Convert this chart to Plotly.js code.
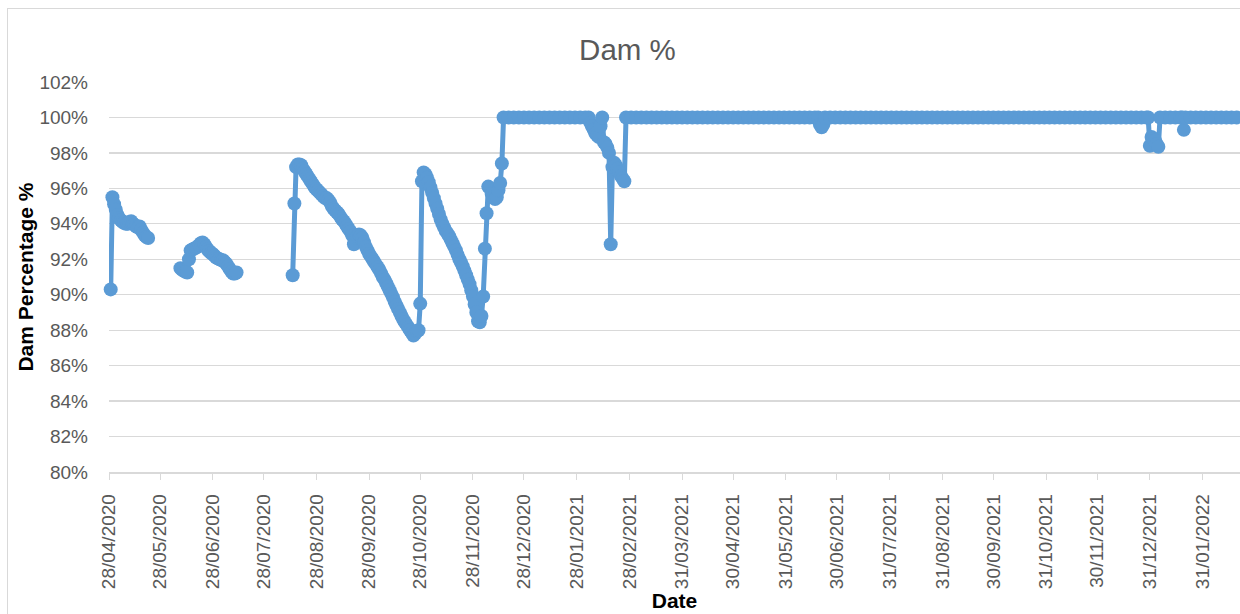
<!DOCTYPE html>
<html>
<head>
<meta charset="utf-8">
<script src="https://cdn.plot.ly/plotly-3.0.1.min.js"></script>
<style>
  html, body { margin: 0; padding: 0; background: #ffffff; }
  #chart { width: 1240px; height: 614px; }
  #frame { position: absolute; left: 7px; top: 8px; width: 1260px; height: 640px;
           border: 1px solid #d9d9d9; pointer-events: none; }
</style>
</head>
<body>
<div id="chart"></div>
<div id="frame"></div>
<script>
// ---- data (dam level, % full) ----
const dates = [
  // segment 1
  '2020-04-29','2020-04-30','2020-05-01','2020-05-02','2020-05-03','2020-05-04','2020-05-05','2020-05-06',
  '2020-05-07','2020-05-08','2020-05-09','2020-05-10','2020-05-11','2020-05-12','2020-05-13','2020-05-14',
  '2020-05-15','2020-05-16','2020-05-17','2020-05-18','2020-05-19','2020-05-20','2020-05-21',
  '2020-05-30',
  // segment 2
  '2020-06-09','2020-06-10','2020-06-11','2020-06-12','2020-06-13','2020-06-14','2020-06-15','2020-06-16',
  '2020-06-17','2020-06-18','2020-06-19','2020-06-20','2020-06-21','2020-06-22','2020-06-23','2020-06-24',
  '2020-06-25','2020-06-26','2020-06-27','2020-06-28','2020-06-29','2020-06-30','2020-07-01','2020-07-02',
  '2020-07-03','2020-07-04','2020-07-05','2020-07-06','2020-07-07','2020-07-08','2020-07-09','2020-07-10',
  '2020-07-11','2020-07-12',
  '2020-07-25',
  // segment 3
  '2020-08-14','2020-08-15','2020-08-16','2020-08-17','2020-08-18','2020-08-19','2020-08-20','2020-08-21',
  '2020-08-22','2020-08-23','2020-08-24','2020-08-25','2020-08-26','2020-08-27','2020-08-28','2020-08-29',
  '2020-08-30','2020-08-31','2020-09-01','2020-09-02','2020-09-03','2020-09-04','2020-09-05','2020-09-06',
  '2020-09-07','2020-09-08','2020-09-09','2020-09-10','2020-09-11','2020-09-12','2020-09-13','2020-09-14',
  '2020-09-15','2020-09-16','2020-09-17','2020-09-18','2020-09-19','2020-09-20','2020-09-21','2020-09-22',
  '2020-09-23','2020-09-24','2020-09-25','2020-09-26','2020-09-27','2020-09-28','2020-09-29','2020-09-30',
  '2020-10-01','2020-10-02','2020-10-03','2020-10-04','2020-10-05','2020-10-06','2020-10-07','2020-10-08',
  '2020-10-09','2020-10-10','2020-10-11','2020-10-12','2020-10-13','2020-10-14','2020-10-15','2020-10-16',
  '2020-10-17','2020-10-18','2020-10-19','2020-10-20','2020-10-21','2020-10-22','2020-10-23','2020-10-24',
  '2020-10-25','2020-10-26','2020-10-27','2020-10-28','2020-10-29','2020-10-30','2020-10-31','2020-11-01',
  '2020-11-02','2020-11-03','2020-11-04','2020-11-05','2020-11-06','2020-11-07','2020-11-08','2020-11-09',
  '2020-11-10','2020-11-11','2020-11-12','2020-11-13','2020-11-14','2020-11-15','2020-11-16','2020-11-17',
  '2020-11-18','2020-11-19','2020-11-20','2020-11-21','2020-11-22','2020-11-23','2020-11-24','2020-11-25',
  '2020-11-26','2020-11-27','2020-11-28','2020-11-29','2020-11-30','2020-12-01','2020-12-02','2020-12-03',
  '2020-12-04','2020-12-05','2020-12-06','2020-12-07','2020-12-08','2020-12-09','2020-12-10','2020-12-11',
  '2020-12-12','2020-12-13','2020-12-14','2020-12-15','2020-12-16',
  '2020-12-19','2020-12-22','2020-12-25','2020-12-28','2020-12-31','2021-01-03','2021-01-06','2021-01-09',
  '2021-01-12','2021-01-15','2021-01-18','2021-01-21','2021-01-24','2021-01-27','2021-01-30','2021-02-02',
  '2021-02-04',
  '2021-02-05','2021-02-06','2021-02-07','2021-02-08','2021-02-09','2021-02-10','2021-02-11','2021-02-12',
  '2021-02-13','2021-02-14','2021-02-15','2021-02-16','2021-02-17','2021-02-18','2021-02-19','2021-02-20',
  '2021-02-21','2021-02-22','2021-02-23','2021-02-24','2021-02-25','2021-02-26',
  '2021-03-01','2021-03-04','2021-03-07','2021-03-10','2021-03-13','2021-03-16','2021-03-19','2021-03-22',
  '2021-03-25','2021-03-28','2021-03-31','2021-04-03','2021-04-06','2021-04-09','2021-04-12','2021-04-15',
  '2021-04-18','2021-04-21','2021-04-24','2021-04-27','2021-04-30','2021-05-03','2021-05-06','2021-05-09',
  '2021-05-12','2021-05-15','2021-05-18','2021-05-21','2021-05-24','2021-05-27','2021-05-30','2021-06-02',
  '2021-06-05','2021-06-08','2021-06-11','2021-06-14','2021-06-17','2021-06-19',
  '2021-06-20','2021-06-21','2021-06-22','2021-06-23',
  '2021-06-26','2021-06-29','2021-07-02','2021-07-05','2021-07-08','2021-07-11','2021-07-14','2021-07-17',
  '2021-07-20','2021-07-23','2021-07-26','2021-07-29','2021-08-01','2021-08-04','2021-08-07','2021-08-10',
  '2021-08-13','2021-08-16','2021-08-19','2021-08-22','2021-08-25','2021-08-28','2021-08-31','2021-09-03',
  '2021-09-06','2021-09-09','2021-09-12','2021-09-15','2021-09-18','2021-09-21','2021-09-24','2021-09-27',
  '2021-09-30','2021-10-03','2021-10-06','2021-10-09','2021-10-12','2021-10-15','2021-10-18','2021-10-21',
  '2021-10-24','2021-10-27','2021-10-30','2021-11-02','2021-11-05','2021-11-08','2021-11-11','2021-11-14',
  '2021-11-17','2021-11-20','2021-11-23','2021-11-26','2021-11-29','2021-12-02','2021-12-05','2021-12-08',
  '2021-12-11','2021-12-14','2021-12-17','2021-12-20','2021-12-23','2021-12-26','2021-12-29','2021-12-30',
  '2021-12-31','2022-01-01','2022-01-02','2022-01-03','2022-01-04','2022-01-05','2022-01-06',
  '2022-01-09','2022-01-12','2022-01-15','2022-01-18','2022-01-19','2022-01-20','2022-01-21',
  '2022-01-24','2022-01-27','2022-01-30','2022-02-02','2022-02-05','2022-02-08','2022-02-11','2022-02-14',
  '2022-02-17','2022-02-20','2022-02-23','2022-02-26'
];
const levels = [
  // segment 1
  90.3,95.5,95.1,94.8,94.5,94.3,94.2,94.1,
  94.05,94.0,94.0,94.1,94.15,94.0,93.95,93.85,
  93.8,93.85,93.65,93.5,93.35,93.25,93.2,
  null,
  // segment 2
  91.5,91.4,91.35,91.3,91.25,92.0,92.5,92.55,
  92.6,92.65,92.7,92.8,92.9,92.95,92.85,92.7,
  92.55,92.45,92.35,92.3,92.2,92.1,92.05,92.0,
  91.95,91.95,91.85,91.75,91.6,91.45,91.3,91.2,
  91.2,91.25,
  null,
  // segment 3
  91.1,95.15,97.2,97.35,97.35,97.3,97.1,96.95,
  96.8,96.65,96.5,96.35,96.2,96.05,95.95,95.85,
  95.75,95.65,95.55,95.45,95.45,95.35,95.2,95.0,
  94.85,94.75,94.65,94.55,94.4,94.25,94.15,94.0,
  93.85,93.7,93.55,93.35,92.85,93.2,93.3,93.4,
  93.35,93.2,92.95,92.7,92.5,92.3,92.15,92.0,
  91.85,91.7,91.55,91.4,91.2,91.0,90.85,90.65,
  90.45,90.25,90.05,89.85,89.6,89.4,89.2,89.0,
  88.8,88.6,88.45,88.3,88.15,88.0,87.85,87.7,
  87.8,87.95,88.0,89.5,96.4,96.9,96.8,96.6,
  96.35,96.05,95.75,95.45,95.15,94.85,94.55,94.25,
  94.0,93.8,93.6,93.45,93.3,93.1,92.9,92.7,
  92.5,92.25,92.0,91.8,91.6,91.35,91.1,90.85,
  90.6,90.25,89.9,89.45,89.0,88.5,88.45,88.8,
  89.9,92.6,94.6,96.1,96.0,95.7,95.5,95.4,
  95.5,95.9,96.3,97.4,100,
  100,100,100,100,100,100,100,100,
  100,100,100,100,100,100,100,100,
  100,
  99.7,99.5,99.3,99.1,99.0,98.9,99.5,100,
  98.6,98.5,98.3,98.0,92.85,97.2,97.45,97.3,
  97.1,96.9,96.7,96.55,96.4,100,
  100,100,100,100,100,100,100,100,
  100,100,100,100,100,100,100,100,
  100,100,100,100,100,100,100,100,
  100,100,100,100,100,100,100,100,
  100,100,100,100,100,100,
  99.6,99.45,99.6,100,
  100,100,100,100,100,100,100,100,
  100,100,100,100,100,100,100,100,
  100,100,100,100,100,100,100,100,
  100,100,100,100,100,100,100,100,
  100,100,100,100,100,100,100,100,
  100,100,100,100,100,100,100,100,
  100,100,100,100,100,100,100,100,
  100,100,100,100,100,100,100,100,
  98.4,98.9,98.8,98.7,98.5,98.35,100,
  100,100,100,100,100,99.3,100,
  100,100,100,100,100,100,100,100,
  100,100,100,100
];

const tickDates = [
  '2020-04-28','2020-05-28','2020-06-28','2020-07-28','2020-08-28','2020-09-28','2020-10-28','2020-11-28',
  '2020-12-28','2021-01-28','2021-02-28','2021-03-31','2021-04-30','2021-05-31','2021-06-30','2021-07-31',
  '2021-08-31','2021-09-30','2021-10-31','2021-11-30','2021-12-31','2022-01-31'
];
const tickLabels = [
  '28/04/2020','28/05/2020','28/06/2020','28/07/2020','28/08/2020','28/09/2020','28/10/2020','28/11/2020',
  '28/12/2020','28/01/2021','28/02/2021','31/03/2021','30/04/2021','31/05/2021','30/06/2021','31/07/2021',
  '31/08/2021','30/09/2021','31/10/2021','30/11/2021','31/12/2021','31/01/2022'
];
const yTicks = [80,82,84,86,88,90,92,94,96,98,100,102];
const yTickLabels = ['80%','82%','84%','86%','88%','90%','92%','94%','96%','98%','100%','102%'];

const FONT = '"Liberation Sans", Arial, sans-serif';
const BLUE = '#5B9BD5';

const trace = {
  type: 'scatter',
  mode: 'lines+markers',
  x: dates,
  y: levels,
  connectgaps: false,
  cliponaxis: false,
  line: { color: BLUE, width: 5 },
  marker: { color: BLUE, size: 14, line: { width: 0 } },
  showlegend: false,
  hoverinfo: 'skip'
};

const layout = {
  width: 1240,
  height: 614,
  margin: { l: 109, r: 0, t: 82, b: 142 },
  paper_bgcolor: '#ffffff',
  plot_bgcolor: '#ffffff',
  font: { family: FONT, color: '#595959', size: 19 },
  title: {
    text: 'Dam %',
    font: { family: FONT, size: 29.5, color: '#595959' },
    xref: 'container', x: 0.506, xanchor: 'center',
    yref: 'container', y: 1 - 50 / 614, yanchor: 'middle'
  },
  xaxis: {
    type: 'date',
    range: ['2020-04-28', '2022-02-22'],
    tickmode: 'array',
    tickvals: tickDates,
    ticktext: tickLabels,
    tickangle: -90,
    tickfont: { family: FONT, size: 19, color: '#595959' },
    ticks: 'outside',
    ticklen: 6,
    tickwidth: 1,
    tickcolor: '#d9d9d9',
    ticklabelstandoff: 7,
    showline: true,
    linecolor: '#d9d9d9',
    linewidth: 1.5,
    showgrid: false,
    zeroline: false,
    automargin: false,
    title: {
      text: 'Date',
      font: { family: FONT, size: 21, color: '#000000', weight: 'bold' },
      standoff: 0
    }
  },
  yaxis: {
    range: [80, 102],
    tickmode: 'array',
    tickvals: yTicks,
    ticktext: yTickLabels,
    tickfont: { family: FONT, size: 19, color: '#595959' },
    ticks: '',
    ticklabelstandoff: 20,
    showline: false,
    showgrid: true,
    gridcolor: '#d9d9d9',
    gridwidth: 1.2,
    zeroline: false,
    automargin: false,
    title: {
      text: 'Dam Percentage %',
      font: { family: FONT, size: 21, color: '#000000', weight: 'bold' },
      standoff: 0
    }
  }
};

Plotly.newPlot('chart', [trace], layout, { displayModeBar: false, staticPlot: true });
</script>
</body>
</html>
